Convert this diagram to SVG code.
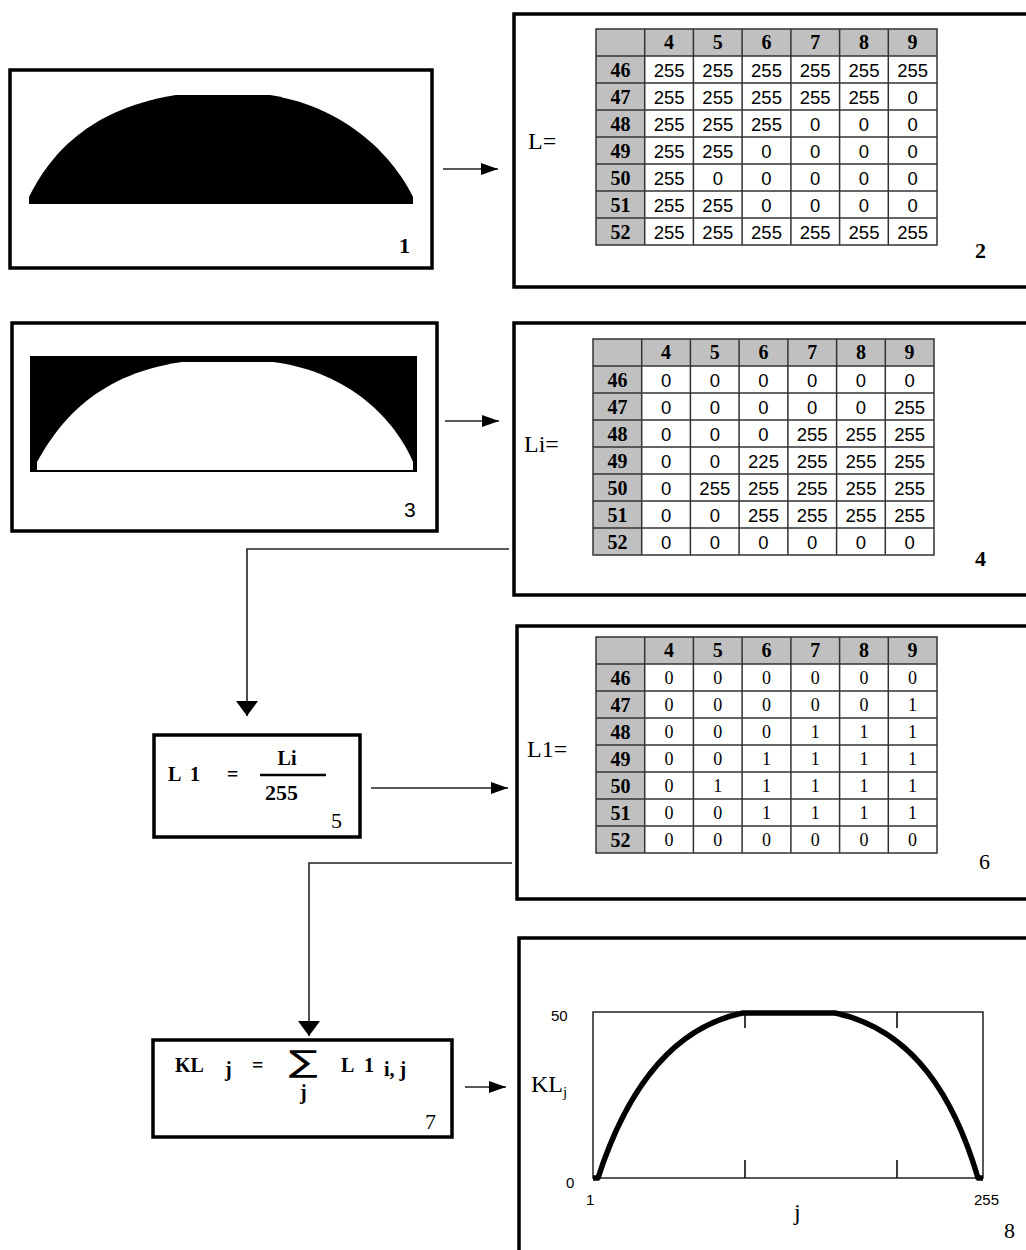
<svg xmlns="http://www.w3.org/2000/svg" width="1026" height="1250" viewBox="0 0 1026 1250">
<style>
.box{fill:#fff;stroke:#000;stroke-width:3.5}
.conn{fill:none;stroke:#222;stroke-width:1.6}
.gray{fill:#c0c0c0}
.grid{fill:none;stroke:#333;stroke-width:1.5}
.hd{font-family:"Liberation Serif",serif;font-weight:bold;font-size:20px;text-anchor:middle}
.vs{font-family:"Liberation Sans",sans-serif;font-size:18.5px;text-anchor:middle}
.vr{font-family:"Liberation Serif",serif;font-size:18px;text-anchor:middle}
.lbl{font-family:"Liberation Serif",serif;font-size:24px}
.num{font-family:"Liberation Serif",serif;font-size:22px}
.numb{font-family:"Liberation Serif",serif;font-size:22px;font-weight:bold}
.fm{font-family:"Liberation Serif",serif;font-weight:bold;font-size:20px}
.sm{font-family:"Liberation Sans",sans-serif;font-size:15px}
</style>
<defs>
<marker id="ar" markerUnits="userSpaceOnUse" markerWidth="18" markerHeight="14" refX="17" refY="7" orient="auto">
<path d="M0,1 L17,7 L0,13 Z" fill="#000"/>
</marker>
<marker id="ad" markerUnits="userSpaceOnUse" markerWidth="16" markerHeight="24" refX="15" refY="12" orient="auto">
<path d="M0,1 L15,12 L0,23 Z" fill="#000"/>
</marker>
<g id="grid">
<rect class="gray" x="0" y="0" width="341" height="27"/>
<rect class="gray" x="0" y="0" width="48.7" height="216"/>
<path class="grid" d="M0,0H341V216H0Z M0,27H341 M0,54H341 M0,81H341 M0,108H341 M0,135H341 M0,162H341 M0,189H341 M48.7,0V216 M97.4,0V216 M146.1,0V216 M194.9,0V216 M243.6,0V216 M292.3,0V216"/>
<text class="hd" x="73.1" y="20">4</text><text class="hd" x="121.8" y="20">5</text><text class="hd" x="170.5" y="20">6</text><text class="hd" x="219.2" y="20">7</text><text class="hd" x="268" y="20">8</text><text class="hd" x="316.6" y="20">9</text>
<text class="hd" x="24.4" y="47.5">46</text><text class="hd" x="24.4" y="74.5">47</text><text class="hd" x="24.4" y="101.5">48</text><text class="hd" x="24.4" y="128.5">49</text><text class="hd" x="24.4" y="155.5">50</text><text class="hd" x="24.4" y="182.5">51</text><text class="hd" x="24.4" y="209.5">52</text>
</g>
</defs>

<g id="connectors">
<line class="conn" x1="443" y1="169" x2="498" y2="169" marker-end="url(#ar)"/>
<line class="conn" x1="445" y1="421" x2="499" y2="421" marker-end="url(#ar)"/>
<polyline class="conn" points="509,549 247,549 247,716" marker-end="url(#ad)"/>
<line class="conn" x1="371" y1="788" x2="508" y2="788" marker-end="url(#ar)"/>
<polyline class="conn" points="512,863 309,863 309,1036" marker-end="url(#ad)"/>
<line class="conn" x1="465" y1="1087" x2="506" y2="1087" marker-end="url(#ar)"/>
</g>

<g id="node1">
<rect class="box" x="10" y="70" width="422" height="198"/>
<path d="M29,204 L29,197 C45,165 80,110 176,95 L270,95 C350,108 395,160 413,197 L413,204 Z" fill="#000"/>
<text class="numb" x="399" y="253">1</text>
</g>

<g id="node2">
<rect class="box" x="514" y="14" width="530" height="273"/>
<text class="lbl" x="528" y="149">L=</text>
<g transform="translate(596,29)">
<use href="#grid"/>
<g class="vs">
<text x="73.1" y="48">255</text><text x="121.8" y="48">255</text><text x="170.5" y="48">255</text><text x="219.2" y="48">255</text><text x="268" y="48">255</text><text x="316.6" y="48">255</text>
<text x="73.1" y="75">255</text><text x="121.8" y="75">255</text><text x="170.5" y="75">255</text><text x="219.2" y="75">255</text><text x="268" y="75">255</text><text x="316.6" y="75">0</text>
<text x="73.1" y="102">255</text><text x="121.8" y="102">255</text><text x="170.5" y="102">255</text><text x="219.2" y="102">0</text><text x="268" y="102">0</text><text x="316.6" y="102">0</text>
<text x="73.1" y="129">255</text><text x="121.8" y="129">255</text><text x="170.5" y="129">0</text><text x="219.2" y="129">0</text><text x="268" y="129">0</text><text x="316.6" y="129">0</text>
<text x="73.1" y="156">255</text><text x="121.8" y="156">0</text><text x="170.5" y="156">0</text><text x="219.2" y="156">0</text><text x="268" y="156">0</text><text x="316.6" y="156">0</text>
<text x="73.1" y="183">255</text><text x="121.8" y="183">255</text><text x="170.5" y="183">0</text><text x="219.2" y="183">0</text><text x="268" y="183">0</text><text x="316.6" y="183">0</text>
<text x="73.1" y="210">255</text><text x="121.8" y="210">255</text><text x="170.5" y="210">255</text><text x="219.2" y="210">255</text><text x="268" y="210">255</text><text x="316.6" y="210">255</text>
</g>
</g>
<text class="numb" x="975" y="258">2</text>
</g>

<g id="node3">
<rect class="box" x="12" y="323" width="425" height="208"/>
<rect x="30" y="356" width="387" height="116" fill="#000"/>
<path d="M37,470 L37,462 C55,430 90,375 182,362 L273,362 C350,372 395,420 413,462 L413,470 Z" fill="#fff"/>
<text x="404" y="517" font-family="Liberation Sans, sans-serif" font-size="21">3</text>
</g>

<g id="node4">
<rect class="box" x="514" y="323" width="530" height="272"/>
<text class="lbl" x="524" y="452">Li=</text>
<g transform="translate(593,339)">
<use href="#grid"/>
<g class="vs">
<text x="73.1" y="48">0</text><text x="121.8" y="48">0</text><text x="170.5" y="48">0</text><text x="219.2" y="48">0</text><text x="268" y="48">0</text><text x="316.6" y="48">0</text>
<text x="73.1" y="75">0</text><text x="121.8" y="75">0</text><text x="170.5" y="75">0</text><text x="219.2" y="75">0</text><text x="268" y="75">0</text><text x="316.6" y="75">255</text>
<text x="73.1" y="102">0</text><text x="121.8" y="102">0</text><text x="170.5" y="102">0</text><text x="219.2" y="102">255</text><text x="268" y="102">255</text><text x="316.6" y="102">255</text>
<text x="73.1" y="129">0</text><text x="121.8" y="129">0</text><text x="170.5" y="129">225</text><text x="219.2" y="129">255</text><text x="268" y="129">255</text><text x="316.6" y="129">255</text>
<text x="73.1" y="156">0</text><text x="121.8" y="156">255</text><text x="170.5" y="156">255</text><text x="219.2" y="156">255</text><text x="268" y="156">255</text><text x="316.6" y="156">255</text>
<text x="73.1" y="183">0</text><text x="121.8" y="183">0</text><text x="170.5" y="183">255</text><text x="219.2" y="183">255</text><text x="268" y="183">255</text><text x="316.6" y="183">255</text>
<text x="73.1" y="210">0</text><text x="121.8" y="210">0</text><text x="170.5" y="210">0</text><text x="219.2" y="210">0</text><text x="268" y="210">0</text><text x="316.6" y="210">0</text>
</g>
</g>
<text class="numb" x="975" y="566">4</text>
</g>

<g id="node5">
<rect class="box" x="154" y="735" width="206" height="102"/>
<text class="fm" x="168" y="781">L</text>
<text class="fm" x="190" y="781">1</text>
<text class="fm" x="227" y="781">=</text>
<text class="fm" x="287" y="765" text-anchor="middle" font-size="19">Li</text>
<line x1="260" y1="775" x2="326" y2="775" stroke="#000" stroke-width="2.5"/>
<text class="fm" x="265" y="800" font-size="23" textLength="33" lengthAdjust="spacingAndGlyphs">255</text>
<text class="num" x="331" y="828">5</text>
</g>

<g id="node6">
<rect class="box" x="517" y="626" width="530" height="273"/>
<text class="lbl" x="527" y="757">L1=</text>
<g transform="translate(596,637)">
<use href="#grid"/>
<g class="vr">
<text x="73.1" y="47">0</text><text x="121.8" y="47">0</text><text x="170.5" y="47">0</text><text x="219.2" y="47">0</text><text x="268" y="47">0</text><text x="316.6" y="47">0</text>
<text x="73.1" y="74">0</text><text x="121.8" y="74">0</text><text x="170.5" y="74">0</text><text x="219.2" y="74">0</text><text x="268" y="74">0</text><text x="316.6" y="74">1</text>
<text x="73.1" y="101">0</text><text x="121.8" y="101">0</text><text x="170.5" y="101">0</text><text x="219.2" y="101">1</text><text x="268" y="101">1</text><text x="316.6" y="101">1</text>
<text x="73.1" y="128">0</text><text x="121.8" y="128">0</text><text x="170.5" y="128">1</text><text x="219.2" y="128">1</text><text x="268" y="128">1</text><text x="316.6" y="128">1</text>
<text x="73.1" y="155">0</text><text x="121.8" y="155">1</text><text x="170.5" y="155">1</text><text x="219.2" y="155">1</text><text x="268" y="155">1</text><text x="316.6" y="155">1</text>
<text x="73.1" y="182">0</text><text x="121.8" y="182">0</text><text x="170.5" y="182">1</text><text x="219.2" y="182">1</text><text x="268" y="182">1</text><text x="316.6" y="182">1</text>
<text x="73.1" y="209">0</text><text x="121.8" y="209">0</text><text x="170.5" y="209">0</text><text x="219.2" y="209">0</text><text x="268" y="209">0</text><text x="316.6" y="209">0</text>
</g>
</g>
<text class="num" x="979" y="869">6</text>
</g>

<g id="node7">
<rect class="box" x="153" y="1040" width="299" height="97"/>
<text class="fm" x="175" y="1072" font-size="21">KL</text>
<text class="fm" x="225" y="1076" font-size="16">j</text>
<text class="fm" x="252" y="1072">=</text>
<text x="289" y="1072" font-family="DejaVu Sans, sans-serif" font-size="30" textLength="29" lengthAdjust="spacingAndGlyphs">∑</text>
<text class="fm" x="300" y="1099" font-size="14">j</text>
<text class="fm" x="341" y="1072">L</text>
<text class="fm" x="364" y="1072">1</text>
<text class="fm" x="384" y="1076" font-size="16">i, j</text>
<text class="num" x="425" y="1129">7</text>
</g>

<g id="node8">
<rect class="box" x="519" y="938" width="530" height="330"/>
<rect x="593" y="1012" width="390" height="166" fill="none" stroke="#000" stroke-width="1.3"/>
<path d="M745,1178V1160 M897,1178V1160 M745,1012V1028 M897,1012V1028" stroke="#000" stroke-width="1.5"/>
<path d="M593,1178 L598,1178 C620,1110 660,1030 743,1013 L835,1013 C915,1030 955,1100 978,1178 L983,1178" fill="none" stroke="#000" stroke-width="5.5" stroke-linejoin="round"/>
<text class="sm" x="551" y="1021">50</text>
<text class="sm" x="566" y="1188">0</text>
<text class="sm" x="586" y="1205">1</text>
<text class="sm" x="974" y="1205">255</text>
<text x="531" y="1092" font-family="Liberation Serif, serif" font-size="24">KL<tspan font-size="15" dy="5">j</tspan></text>
<text x="794" y="1220" font-family="Liberation Serif, serif" font-size="24">j</text>
<text class="num" x="1004" y="1238">8</text>
</g>
</svg>
